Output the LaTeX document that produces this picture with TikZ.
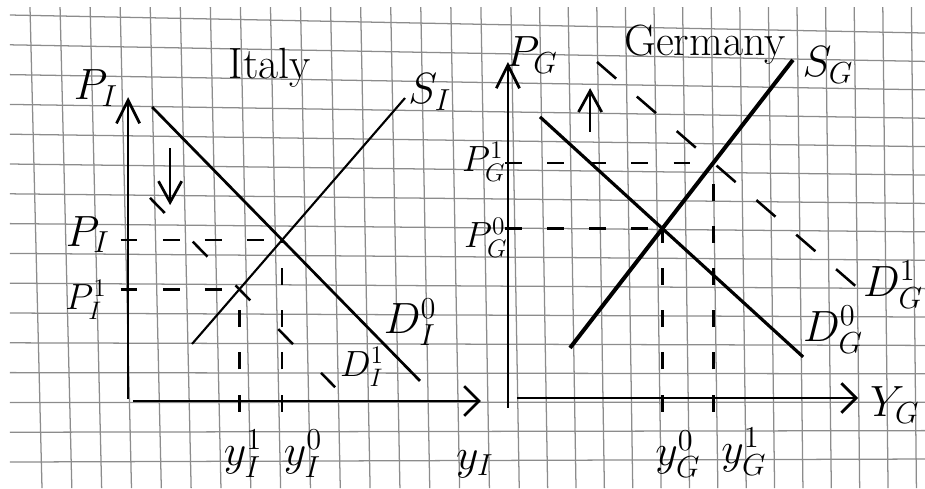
\documentclass[tikz,border=0pt]{standalone}
\usepackage{amsmath}
\usepackage{tikz}
\usetikzlibrary{arrows.meta, calc, intersections}
\tikzset{
    % squared paper in the background
    gridline/.style={black!45, line width=0.6pt},
    % price axis and quantity axis
    axis/.style={line width=1.3pt, -{Straight Barb[length=11pt, width=11pt]}},
    qaxis/.style={line width=1.3pt, -{Straight Barb[length=7pt, width=14pt]}},
    % supply and demand schedules
    curve/.style={line width=1.3pt},
    boldcurve/.style={line width=1.9pt},
    % shifted demand schedule
    newcurve/.style={line width=1.2pt, dash pattern=on 10pt off 19pt},
    % dashed guide lines down to the axes
    guide/.style={line width=1.2pt, dash pattern=on 8pt off 12pt},
    % direction of the price change
    pricearrow/.style={line width=1.3pt, -{Straight Barb[length=10pt, width=11pt]}},
    % labels
    lbl/.style={font=\huge, inner sep=1pt},
    smalllbl/.style={font=\LARGE, inner sep=1pt},
    countryname/.style={font=\huge, inner sep=1pt},
}

\begin{document}
\begin{tikzpicture}[x=0.5cm, y=0.5cm]

    \useasboundingbox (0, 0) rectangle (30.833, 16.267);

    % ---- squared paper ----
    \foreach \k in {0,...,30}{
        \pgfmathsetmacro{\xt}{\k<17 ? 30+30.06*\k : 511+28.6*(\k-16)}
        \pgfmathsetmacro{\xb}{\xt+12-7*\k/30}
        \draw[gridline] (\xt/30, 16.03) -- (\xb/30, 0);
    }
    \foreach \j in {0,...,15}{
        \draw[gridline] (0.33, {(473-29.8*\j)/30}) -- (30.83, {(455-28.4*\j)/30});
    }

    % ---- Italy ----
    \coordinate (IyB) at (4.27, 2.97);
    \coordinate (IyT) at (4.27, 13.03);
    \coordinate (IxL) at (4.43, 2.9);
    \coordinate (IxR) at (16.03, 2.9);
    \draw[axis] (IyB) -- (IyT);
    \draw[qaxis] (IxL) -- (IxR);

    \coordinate (DI0a) at (5.07, 12.7);
    \coordinate (DI0b) at (14.0, 3.57);
    \coordinate (SIa)  at (6.4, 4.8);
    \coordinate (SIb)  at (13.5, 13.0);
    \coordinate (DI1a) at (5.0, 9.67);
    \coordinate (DI1b) at (11.17, 3.36);

    \draw[curve, name path=di0] (DI0a) -- (DI0b);
    \draw[curve, line width=1pt, name path=si] (SIa) -- (SIb);
    \draw[newcurve, name path=di1] (DI1a) -- (DI1b);
    \path[name intersections={of=di0 and si, by=EI0}];
    \path[name intersections={of=di1 and si, by=EI1}];

    % guides to both axes
    \draw[guide] ($(EI0 -| IyB)+(-0.25,0)$) -- (EI0);
    \draw[guide] ($(EI1 -| IyB)+(-0.25,0)$) -- (EI1);
    \draw[guide] ($(EI0 |- IxL)+(0,-0.35)$) -- (EI0);
    \draw[guide] ($(EI1 |- IxL)+(0,-0.35)$) -- (EI1);

    % price falls
    \coordinate (dnA) at (5.67, 11.33);
    \coordinate (dnB) at (5.67, 9.43);
    \draw[pricearrow] (dnA) -- (dnB);

    \node[countryname] (italy) at (9.0, 14.0) {Italy};
    \node[lbl] (pI)   at (3.2, 13.33) {$P_I$};
    \node[lbl] (pI0)  at (2.93, 8.45) {$P_I$};
    \node[smalllbl] (pI1) at (2.87, 6.27) {$P_I^1$};
    \node[lbl] (sI)  at (14.33, 13.2) {$S_I$};
    \node[lbl] (dI0) at (13.67, 5.53) {$D_I^0$};
    \node[smalllbl] (dI1) at (12.07, 4.03) {$D_I^1$};
    \node[lbl] (yI1) at (8.1, 1.15)  {$y_I^1$};
    \node[lbl] (yI0) at (10.1, 1.15) {$y_I^0$};
    \node[lbl] (yI)  at (15.83, 0.8) {$y_I$};

    % ---- Germany ----
    \coordinate (GyB) at (16.93, 2.67);
    \coordinate (GyT) at (16.93, 14.2);
    \coordinate (GxL) at (17.23, 3.0);
    \coordinate (GxR) at (28.6, 3.0);
    \draw[axis] (GyB) -- (GyT);
    \draw[qaxis] (GxL) -- (GxR);

    \coordinate (SGa)  at (19.0, 4.67);
    \coordinate (SGb)  at (26.43, 14.27);
    \coordinate (DG0a) at (18.0, 12.37);
    \coordinate (DG0b) at (26.77, 4.37);
    \coordinate (DG1a) at (19.9, 14.2);
    \coordinate (DG1b) at (28.67, 6.6);

    \draw[boldcurve, name path=sg] (SGa) -- (SGb);
    \draw[curve, line width=1.5pt, name path=dg0] (DG0a) -- (DG0b);
    \draw[newcurve, dash pattern=on 12pt off 13pt, name path=dg1] (DG1a) -- (DG1b);
    \path[name intersections={of=dg0 and sg, by=EG0}];
    \path[name intersections={of=dg1 and sg, by=EG1}];

    % guides to both axes
    \draw[guide] ($(EG0 -| GyB)+(-0.1,0)$) -- (EG0);
    \draw[guide] ($(EG1 -| GyB)+(-0.1,0)$) -- (EG1);
    \draw[guide] ($(EG0 |- GxL)+(0,-0.45)$) -- (EG0);
    \draw[guide] ($(EG1 |- GxL)+(0,-0.45)$) -- (EG1);

    % price rises
    \coordinate (upA) at (19.67, 11.87);
    \coordinate (upB) at (19.67, 13.33);
    \draw[pricearrow] (upA) -- (upB);

    \node[countryname] (germany) at (23.5, 14.77) {Germany};
    \node[lbl] (pG)   at (17.73, 14.43) {$P_G$};
    \node[smalllbl] (pG1) at (16.13, 10.87) {$P_G^1$};
    \node[smalllbl] (pG0) at (16.2, 8.33)   {$P_G^0$};
    \node[lbl] (sG)  at (27.6, 14.1)   {$S_G$};
    \node[lbl] (dG0) at (27.77, 5.27)  {$D_G^0$};
    \node[lbl] (dG1) at (29.77, 6.77)  {$D_G^1$};
    \node[lbl] (yG0) at (22.6, 1.13)  {$y_G^0$};
    \node[lbl] (yG1) at (24.8, 1.2)   {$y_G^1$};
    \node[lbl] (YG)  at (29.83, 2.77) {$Y_G$};

\end{tikzpicture}
\end{document}
